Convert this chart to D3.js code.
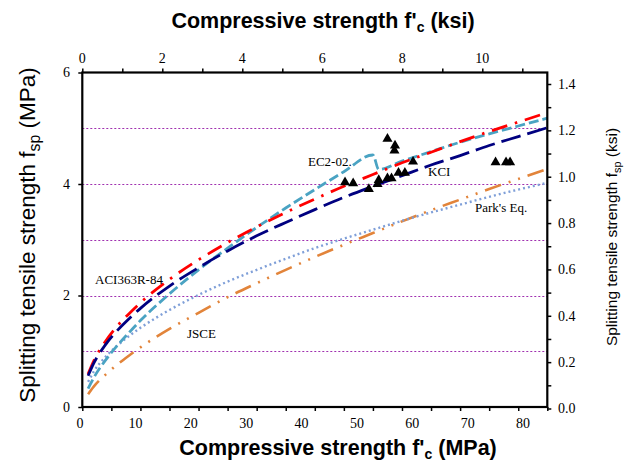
<!DOCTYPE html>
<html><head><meta charset="utf-8">
<script src="https://cdn.jsdelivr.net/npm/d3@7/dist/d3.min.js"></script>
<style>body{margin:0;background:#fff}svg{display:block}</style>
</head><body>
<svg id="c" width="644" height="463"></svg>
<script>
// ---- data ----
const fcGrid = [1,2,4,6,8,10,15,20,25,30,35,40,45,50,55,60,65,70,75,80];
const aciY  = [0.59,0.83,1.18,1.45,1.67,1.87,2.29,2.64,2.95,3.23,3.49,3.73,3.96,4.17,4.38,4.57,4.76,4.94,5.11,5.28];
const kciY  = [0.56,0.79,1.12,1.37,1.58,1.77,2.17,2.50,2.80,3.07,3.31,3.54,3.76,3.96,4.15,4.34,4.51,4.69,4.85,5.01];
const parkY = [0.45,0.64,0.90,1.10,1.27,1.42,1.74,2.01,2.25,2.46,2.66,2.85,3.02,3.18,3.34,3.49,3.63,3.77,3.90,4.02];
const jsceY = [0.23,0.37,0.58,0.76,0.92,1.07,1.40,1.69,1.97,2.22,2.46,2.69,2.91,3.12,3.33,3.53,3.72,3.91,4.09,4.27];
const ec2X  = [1,2,4,6,8,10,15,20,25,30,35,40,45,50,51,55,60,65,70,75,80];
const ec2Y  = [0.33,0.53,0.84,1.10,1.33,1.55,2.03,2.46,2.85,3.22,3.57,3.90,4.22,4.52,4.26,4.41,4.58,4.75,4.90,5.04,5.18];
const testFc  = [52.5,53.8,53.7,56.9,45.2,46.6,49.3,50.8,51.0,52.5,53.2,54.4,55.5,71.1,72.9,73.6];
const testFsp = [4.81,4.69,4.60,4.40,4.03,4.01,3.91,4.00,4.07,4.10,4.10,4.20,4.20,4.39,4.39,4.39];
const bottomTicks = [0,10,20,30,40,50,60,70,80];
const topTicks = [0,2,4,6,8,10];
const leftTicks = [0,2,4,6];
const rightTicks = [0,0.2,0.4,0.6,0.8,1.0,1.2,1.4];
const gridVals = [1,2,3,4,5];

const svg = d3.select("#c");
const L = 82.3, R = 547.3, T = 72.5, B = 407;
const x = d3.scaleLinear().domain([0,80]).range([L,R]);
const xLab = d3.scaleLinear().domain([0,80]).range([80,523]);
const xTop = d3.scaleLinear().domain([0,11.625]).range([L,R]);
const y = d3.scaleLinear().domain([0,6]).range([B,T]);
const yR = d3.scaleLinear().domain([0,1.4]).range([408.5,84]);

// grid
svg.append("g").selectAll("line").data(gridVals).join("line")
  .attr("x1",L).attr("x2",R).attr("y1",d=>Math.round(y(d))+0.5).attr("y2",d=>Math.round(y(d))+0.5)
  .attr("stroke","#a030b0").attr("stroke-width",1).attr("stroke-dasharray","2,2");

const line = d3.line().curve(d3.curveMonotoneX);
function curve(xs, ys, color, dash, w){
  svg.append("path").attr("d", line(xs.map((v,i)=>[x(v), y(ys[i])])))
    .attr("fill","none").attr("stroke",color).attr("stroke-width",w)
    .attr("stroke-dasharray",dash);
}
curve(fcGrid, jsceY, "#e2843a", "17,8,2,8,2,8", 2.6);
curve(fcGrid, parkY, "#7f9fd8", "2,3", 2.4);
curve(ec2X, ec2Y, "#4aa3c3", "10,4", 2.8);
curve(fcGrid, aciY, "#ff0000", "16,8,2.5,8", 2.8);
curve(fcGrid, kciY, "#000080", "20,7", 2.8);

// test points
svg.append("g").selectAll("path").data(testFc).join("path")
  .attr("d", d3.symbol().type(d3.symbolTriangle).size(44))
  .attr("transform",(d,i)=>`translate(${x(d)},${y(testFsp[i])})`)
  .attr("fill","#000");

// frame
svg.append("rect").attr("x",L).attr("y",T).attr("width",R-L).attr("height",B-T)
  .attr("fill","none").attr("stroke","#000").attr("stroke-width",2.2);

const serif = "Liberation Serif";
const sans = "Liberation Sans";

// bottom ticks (16 intervals)
svg.append("g").attr("transform",`translate(0,${B})`)
  .call(d3.axisBottom(x).tickValues(d3.range(0,81,5)).tickSize(4).tickFormat(""))
  .call(g=>g.select(".domain").remove())
  .call(g=>g.selectAll("line").attr("stroke-width",1.5));
svg.append("g").selectAll("text").data(bottomTicks).join("text")
  .attr("x",d=>xLab(d)).attr("y",428).attr("text-anchor","middle")
  .style("font-family",serif).attr("font-size",14).text(d=>d);

// top axis
svg.append("g").attr("transform",`translate(0,${T})`)
  .call(d3.axisTop(xTop).tickValues(d3.range(0,12,1)).tickSize(4).tickFormat(""))
  .call(g=>g.select(".domain").remove())
  .call(g=>g.selectAll("line").attr("stroke-width",1.5));
svg.append("g").selectAll("text").data(topTicks).join("text")
  .attr("x",d=>xTop(d)).attr("y",63).attr("text-anchor","middle")
  .style("font-family",serif).attr("font-size",14).text(d=>d);

// left axis
svg.append("g").attr("transform",`translate(${L},0)`)
  .call(d3.axisLeft(y).tickValues(leftTicks).tickSize(4).tickFormat(""))
  .call(g=>g.select(".domain").remove())
  .call(g=>g.selectAll("line").attr("stroke-width",1.5));
svg.append("g").selectAll("text").data(leftTicks).join("text")
  .attr("x",70).attr("y",d=>y(d)).attr("dy","0.35em").attr("text-anchor","end")
  .style("font-family",serif).attr("font-size",14).text(d=>d);

// right axis
svg.append("g").attr("transform",`translate(${R},0)`)
  .call(d3.axisRight(yR).tickValues(d3.range(0,15).map(i=>i/10)).tickSize(4).tickFormat(""))
  .call(g=>g.select(".domain").remove())
  .call(g=>g.selectAll("line").attr("stroke-width",1.5));
svg.append("g").selectAll("text").data(rightTicks).join("text")
  .attr("x",558).attr("y",d=>yR(d)).attr("dy","0.35em").attr("text-anchor","start")
  .style("font-family",serif).attr("font-size",14).text(d=>d.toFixed(1));

// titles
function fcTitle(xp, yp, unit){
  const t = svg.append("text").attr("x",xp).attr("y",yp).attr("text-anchor","middle")
    .style("font-family",sans).attr("font-size",21.5).attr("font-weight","bold");
  t.append("tspan").text("Compressive strength f'");
  t.append("tspan").attr("font-size",14).attr("dy",4).text("c");
  t.append("tspan").attr("dy",-4).text(" (" + unit + ")");
}
fcTitle(323, 28, "ksi");
fcTitle(338, 455, "MPa");

function fspTitle(cx, cy, size, unit){
  const t = svg.append("text").attr("transform",`translate(${cx},${cy}) rotate(-90)`)
    .attr("text-anchor","middle").attr("dy","0.35em")
    .style("font-family",sans).attr("font-size",size);
  t.append("tspan").text("Splitting tensile strength f");
  t.append("tspan").attr("font-size",size*0.7).attr("dy",size*0.22).text("sp");
  t.append("tspan").attr("dy",-size*0.22).text(" (" + unit + ")");
}
fspTitle(27, 235, 22.5, "MPa");
fspTitle(612, 237, 15.5, "ksi");

// annotations
const notes = [["EC2-02.",308,166],["KCI",428,176],["Park's Eq.",475,212],["ACI363R-84",95,284],["JSCE",187,338]];
svg.append("g").selectAll("text").data(notes).join("text")
  .attr("x",d=>d[1]).attr("y",d=>d[2]).style("font-family",serif).attr("font-size",13)
  .text(d=>d[0]);
</script>
</body></html>
